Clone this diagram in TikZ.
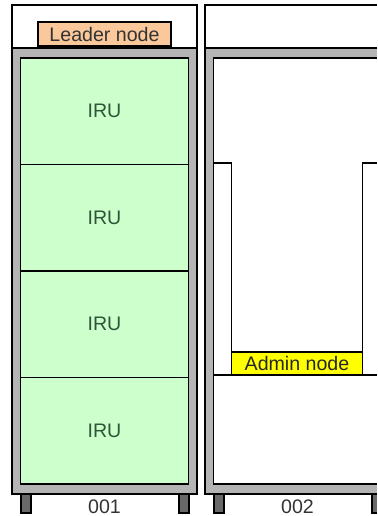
\documentclass[tikz,border=0pt]{standalone}
\usepackage{fontspec}
\setmainfont{Liberation Sans}
\usepackage{tikz}
\usetikzlibrary{positioning}
\definecolor{iruGreen}{RGB}{204,255,204}
\definecolor{leaderPeach}{RGB}{250,200,155}
\definecolor{adminYellow}{RGB}{255,255,0}
\definecolor{rackGray}{RGB}{180,180,180}
\definecolor{footGray}{RGB}{105,105,105}
\definecolor{iruText}{RGB}{45,85,55}
\tikzset{
  rk/top/.style={rectangle, draw=black, fill=white, line width=0.7pt,
    minimum width=92.5pt, minimum height=21.5pt, inner sep=0pt,
    outer sep=0pt, anchor=north west},
  rk/frame/.style={rectangle, draw=black, fill=rackGray, line width=0.7pt,
    minimum width=92.5pt, minimum height=223pt, inner sep=0pt,
    outer sep=0pt, anchor=north west},
  rk/inner/.style={rectangle, draw=black, fill=white, line width=0.7pt,
    minimum width=84pt, minimum height=213pt, inner sep=0pt, outer sep=0pt},
  rk/iru/.style={rectangle, draw=black, fill=iruGreen, line width=0.7pt,
    minimum width=84pt, minimum height=53.25pt, inner sep=0pt, outer sep=0pt,
    font=\fontsize{9.8}{11}\selectfont\color{iruText}},
  rk/leader/.style={rectangle, draw=black, fill=leaderPeach, line width=0.7pt,
    minimum width=66.5pt, minimum height=12pt, inner sep=0pt, outer sep=0pt,
    font=\fontsize{9.8}{11}\selectfont\color{black!80}},
  rk/admin/.style={rectangle, draw=black, fill=adminYellow, line width=0.7pt,
    minimum width=65.5pt, minimum height=11.5pt, inner sep=0pt, outer sep=0pt,
    font=\fontsize{9.8}{11}\selectfont\color{black!85}},
  rk/post/.style={rectangle, draw=black, fill=white, line width=0.7pt,
    minimum width=9pt, minimum height=106pt, inner sep=0pt, outer sep=0pt},
  rk/foot/.style={rectangle, draw=black, fill=footGray, line width=0.7pt,
    minimum width=5pt, minimum height=9.5pt, inner sep=0pt, outer sep=0pt},
  rk/lbl/.style={font=\fontsize{9.8}{11}\selectfont\color{black!80},
    inner sep=0pt}
}
\begin{document}
\begin{tikzpicture}[x=0.5pt, y=-0.5pt]
  \useasboundingbox (0,0) rectangle (377,516);
  \clip (0,0) rectangle (377,516);

  % rack 001
  \node[rk/top] (top1) at (12,5) {};
  \node[rk/leader] (leader) at (104.5,34) {Leader node};
  \node[rk/frame] (frame1) at (12,48) {};
  \node[rk/iru, below=5pt of frame1.north] (iru1) {IRU};
  \node[rk/iru, below=0pt of iru1] (iru2) {IRU};
  \node[rk/iru, below=0pt of iru2] (iru3) {IRU};
  \node[rk/iru, below=0pt of iru3] (iru4) {IRU};
  \node[rk/foot, below right=0pt and 4.5pt of frame1.south west] (foot1a) {};
  \node[rk/foot, below left=0pt and 4pt of frame1.south east] (foot1b) {};
  \node[rk/lbl, below=2.8pt of frame1.south] (lbl1) {001};

  % rack 002
  \node[rk/top] (top2) at (205,5) {};
  \node[rk/frame] (frame2) at (205,48) {};
  \draw[line width=1.3pt] (frame2.north west) -- (frame2.north east);
  \node[rk/inner] (inner2) at (frame2.center) {};
  \node[rk/post, below right=52.5pt and 0pt of inner2.north west] (post1) {};
  \node[rk/admin, anchor=south west] (admin) at (post1.south east) {Admin node};
  \node[rk/post, anchor=south west, minimum width=9.5pt] (post2)
        at (admin.south east) {};
  \node[rk/foot, below right=0pt and 4.5pt of frame2.south west] (foot2a) {};
  \node[rk/foot, below left=0pt and 4pt of frame2.south east] (foot2b) {};
  \node[rk/lbl, below=2.8pt of frame2.south] (lbl2) {002};
\end{tikzpicture}
\end{document}
